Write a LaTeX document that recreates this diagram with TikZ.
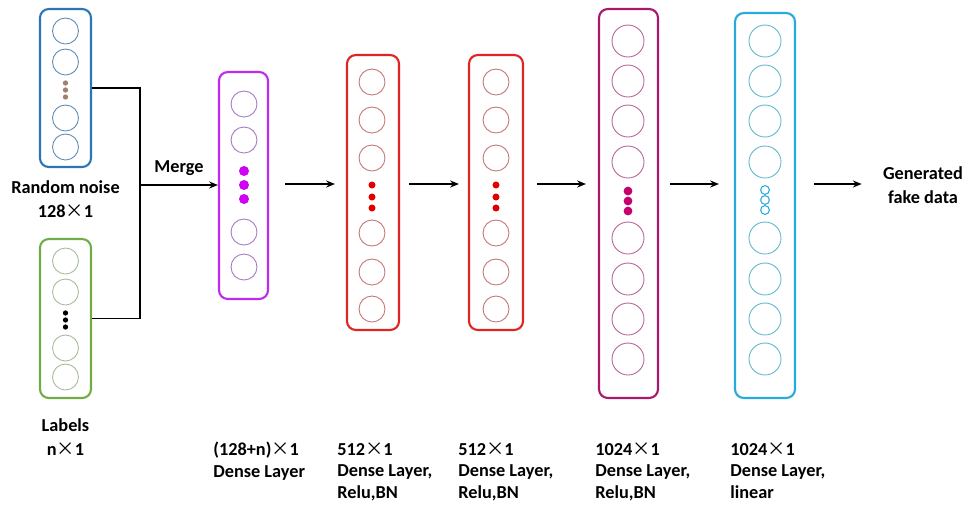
\documentclass[tikz,border=0pt]{standalone}
\usepackage{fontspec}
\setmainfont{Carlito}
\newfontfamily\cjk{Noto Sans CJK SC}
\usepackage{xcolor}
\usetikzlibrary{arrows.meta, positioning}

\definecolor{noiseblue}{HTML}{2E75B6}
\definecolor{noisering}{HTML}{5F8CB5}
\definecolor{noisedot}{HTML}{A08070}
\definecolor{labelgreen}{HTML}{70AD47}
\definecolor{labelring}{HTML}{A8BC98}
\definecolor{mergepurple}{HTML}{C02AEA}
\definecolor{mergering}{HTML}{A478C4}
\definecolor{mergedot}{HTML}{D000F4}
\definecolor{densered}{HTML}{E02424}
\definecolor{densering}{HTML}{C47474}
\definecolor{densedot}{HTML}{E00000}
\definecolor{widemag}{HTML}{A8186C}
\definecolor{widering}{HTML}{B8649A}
\definecolor{widedot}{HTML}{C8006E}
\definecolor{outcyan}{HTML}{28ABDC}
\definecolor{outring}{HTML}{62B8CC}

\newcommand{\by}{{\cjk\mdseries ×}}

\begin{document}
\begin{tikzpicture}[
    x=0.02cm, y=-0.02cm,
    >={Stealth[length=5pt, width=4pt]},
    font=\fontsize{10.4}{13.6}\selectfont\bfseries,
    % layer boxes and their units
    layer/.style={rectangle, draw=#1, line width=1.2pt, rounded corners=5pt, fill=white},
    unit/.style={circle, draw=#1, line width=0.5pt, minimum size=0.52cm, inner sep=0pt},
    bigunit/.style={unit=#1, minimum size=0.64cm},
    dot/.style={circle, fill=#1, inner sep=0pt, minimum size=4pt},
    ring/.style={circle, draw=#1, line width=0.6pt, inner sep=0pt, minimum size=5pt},
    % connectors and text
    arr/.style={->, line width=0.9pt, draw=black},
    wire/.style={line width=0.9pt, draw=black},
    txt/.style={inner sep=0pt, align=center},
    caption/.style={inner sep=0pt, align=left, anchor=north west,
        font=\fontsize{10.4}{12.4}\selectfont\bfseries}
]

\useasboundingbox[fill=white] (0,0) rectangle (978,505);

% ========================================================
% INPUTS: noise vector and label vector
% ========================================================

\node[layer=noiseblue, minimum width=1.02cm, minimum height=3.16cm] (noise) at (65.5,88) {};
\foreach \y [count=\i] in {31,62,118,147}
    \node[unit=noisering] (noise-\i) at (65.5,\y) {};
\foreach \y in {83,90,97}
    \node[dot=noisedot, minimum size=3pt] at (65.5,\y) {};
\node[txt, below=0.24cm of noise] (noisetxt) {Random noise\\128\by1};

\node[layer=labelgreen, minimum width=1.02cm, minimum height=3.18cm] (labels) at (65.5,318.5) {};
\foreach \y [count=\i] in {261,292,348,377}
    \node[unit=labelring] (labels-\i) at (65.5,\y) {};
\foreach \y in {313,320,327}
    \node[dot=black, minimum size=3pt] at (65.5,\y) {};
\node[txt, below=0.38cm of labels] (labelstxt) {Labels\\n\by1};

% ========================================================
% GENERATOR LAYERS
% ========================================================

\node[layer=mergepurple, minimum width=0.98cm, minimum height=4.54cm] (merged) at (243.5,185.5) {};
\foreach \y [count=\i] in {104,140,232,267}
    \node[unit=mergering] (merged-\i) at (244,\y) {};
\foreach \y in {171,185,199}
    \node[dot=mergedot, minimum size=0.2cm] at (244,\y) {};

\node[layer=densered, minimum width=1.04cm, minimum height=5.5cm] (dense1) at (373,192.5) {};
\foreach \y [count=\i] in {82,120,158,233,272,309}
    \node[unit=densering] (dense1-\i) at (372,\y) {};
\foreach \y in {185,197,208}
    \node[dot=densedot] at (372,\y) {};

\node[layer=densered, minimum width=1.08cm, minimum height=5.5cm] (dense2) at (496,192.5) {};
\foreach \y [count=\i] in {82,120,158,233,272,309}
    \node[unit=densering] (dense2-\i) at (496,\y) {};
\foreach \y in {185,197,208}
    \node[dot=densedot] at (496,\y) {};

\node[layer=widemag, minimum width=1.18cm, minimum height=7.78cm] (wide) at (628.5,203.5) {};
\foreach \y [count=\i] in {41,81,121,162,238,279,319,359}
    \node[bigunit=widering] (wide-\i) at (628,\y) {};
\foreach \y in {191,201,211}
    \node[dot=widedot, minimum size=5pt] at (628,\y) {};

\node[layer=outcyan, minimum width=1.2cm, minimum height=7.7cm] (outlayer) at (765,205.5) {};
\foreach \y [count=\i] in {41,81,121,162,238,279,319,359}
    \node[bigunit=outring] (outlayer-\i) at (765,\y) {};
\foreach \y in {190,200,210}
    \node[ring=outcyan] at (765,\y) {};

\node[txt] (fake) at (923,185) {Generated\\fake data};

% ========================================================
% CONNECTORS
% ========================================================

\coordinate (split) at (140,185);
\coordinate (flow) at (0,184);

\draw[wire] (noise.east) -| (split) |- (labels.east);
\draw[arr] (split) -- node[midway, above=5pt, inner sep=0pt] {Merge} (split -| merged.west);

\draw[arr, shorten <=0.32cm, shorten >=0.22cm] (merged.east |- flow) -- (dense1.west |- flow);
\draw[arr, shorten <=0.18cm, shorten >=0.18cm] (dense1.east |- flow) -- (dense2.west |- flow);
\draw[arr, shorten <=0.26cm, shorten >=0.24cm] (dense2.east |- flow) -- (wide.west |- flow);
\draw[arr, shorten <=0.22cm, shorten >=0.3cm] (wide.east |- flow) -- (outlayer.west |- flow);
\draw[arr, shorten <=0.36cm, shorten >=0.42cm] (outlayer.east |- flow) -- (fake.west |- flow);

% ========================================================
% LAYER SIZES
% ========================================================

\node[caption] (cap-merged) at (213,442) {(128+n)\by1\\Dense Layer};
\node[caption] (cap-dense1) at (337,442) {512\by1\\Dense Layer,\\Relu,BN};
\node[caption] (cap-dense2) at (458,442) {512\by1\\Dense Layer,\\Relu,BN};
\node[caption] (cap-wide) at (595,442) {1024\by1\\Dense Layer,\\Relu,BN};
\node[caption] (cap-out) at (730,442) {1024\by1\\Dense Layer,\\linear};

\end{tikzpicture}
\end{document}
